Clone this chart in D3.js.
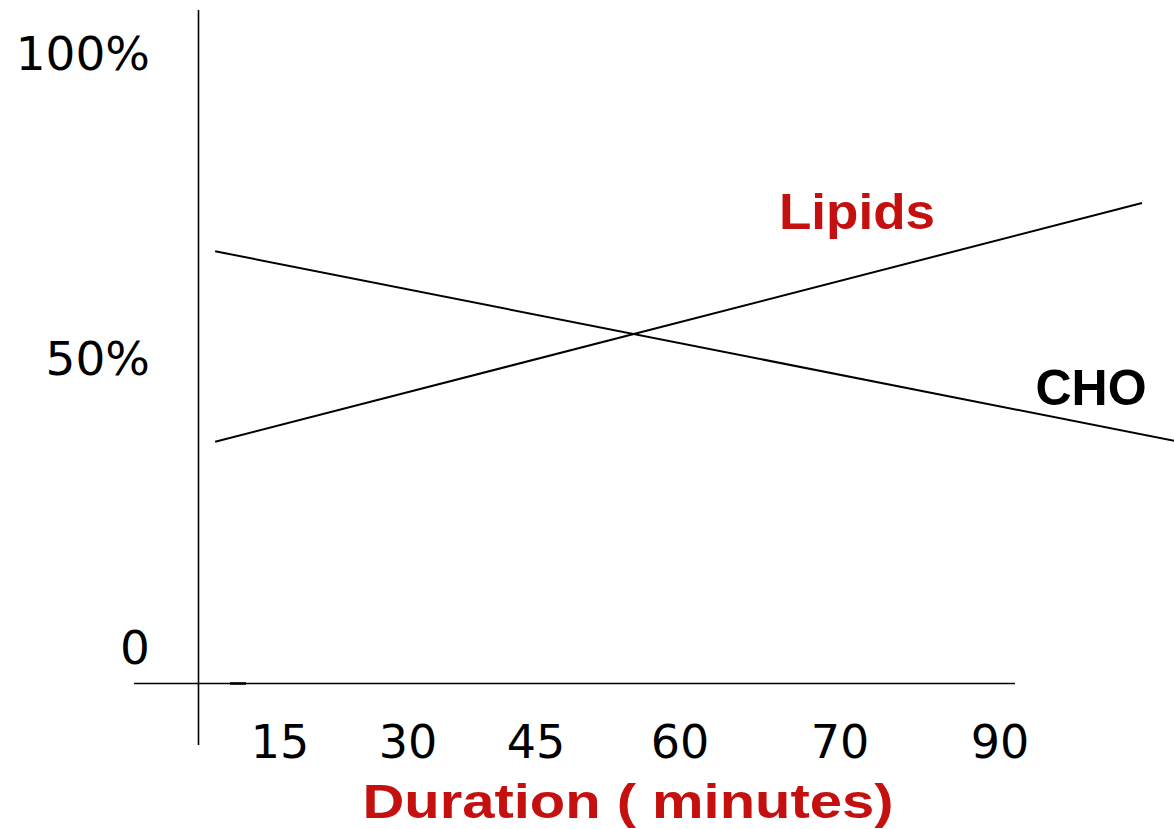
<!DOCTYPE html>
<html><head><meta charset="utf-8">
<script src="https://cdn.jsdelivr.net/npm/d3@7"></script>
<style>html,body{margin:0;padding:0;background:#fff;overflow:hidden}</style>
</head><body>
<svg id="c" width="1174" height="829"></svg>
<script>
const durationTicks = [15, 30, 45, 60, 70, 90];
const percentTicks = [0, 50, 100];
const percentLabels = ["0", "50%", "100%"];
const choSeries = [{t: 7.4, v: 67.5}, {t: 112, v: 35.6}];
const lipidSeries = [{t: 7.4, v: 35.5}, {t: 107.75, v: 75.4}];

const svg = d3.select("#c");
const red = "#c4100e";

// hand-spaced duration axis (labels in the slide are not evenly spaced)
const x = d3.scaleLinear().domain(durationTicks).range([280, 408, 536, 680, 840, 1000]);
const y = d3.scaleLinear().domain(percentTicks).range([647, 358, 53]);

// axes lines
svg.append("line").attr("x1", 198.5).attr("x2", 198.5).attr("y1", 10).attr("y2", 745)
  .attr("stroke", "#000").attr("stroke-width", 1.6);
svg.append("line").attr("x1", 134).attr("x2", 1015).attr("y1", 683.5).attr("y2", 683.5)
  .attr("stroke", "#000").attr("stroke-width", 1.6);
svg.append("line").attr("x1", 230).attr("x2", 246).attr("y1", 683.5).attr("y2", 683.5)
  .attr("stroke", "#000").attr("stroke-width", 2.6);

// y tick labels
svg.selectAll("text.yl").data(percentTicks).join("text").attr("class", "yl")
  .attr("x", 150).attr("y", d => y(d)).attr("dy", "0.36em")
  .attr("text-anchor", "end")
  .attr("font-family", "DejaVu Sans").attr("font-size", 47)
  .text((d, i) => percentLabels[i]);

// x tick labels
svg.selectAll("text.xl").data(durationTicks).join("text").attr("class", "xl")
  .attr("x", d => x(d)).attr("y", 758)
  .attr("text-anchor", "middle")
  .attr("font-family", "DejaVu Sans").attr("font-size", 46)
  .text(d => d);

const line = d3.line().x(d => x(d.t)).y(d => y(d.v));
svg.append("path").datum(choSeries).attr("d", line)
  .attr("fill", "none").attr("stroke", "#000").attr("stroke-width", 2);
svg.append("path").datum(lipidSeries).attr("d", line)
  .attr("fill", "none").attr("stroke", "#000").attr("stroke-width", 2);

svg.append("text").attr("x", 857).attr("y", 229).attr("text-anchor", "middle")
  .attr("font-family", "Liberation Sans").attr("font-weight", "bold").attr("font-size", 50)
  .attr("textLength", 156).attr("lengthAdjust", "spacingAndGlyphs")
  .attr("fill", red).text("Lipids");
svg.append("text").attr("x", 1091).attr("y", 405).attr("text-anchor", "middle")
  .attr("font-family", "Liberation Sans").attr("font-weight", "bold").attr("font-size", 50)
  .attr("fill", "#000").text("CHO");
svg.append("text").attr("x", 628).attr("y", 818).attr("text-anchor", "middle")
  .attr("font-family", "Liberation Sans").attr("font-weight", "bold").attr("font-size", 48)
  .attr("textLength", 531).attr("lengthAdjust", "spacingAndGlyphs")
  .attr("fill", red).text("Duration ( minutes)");
</script>
</body></html>
